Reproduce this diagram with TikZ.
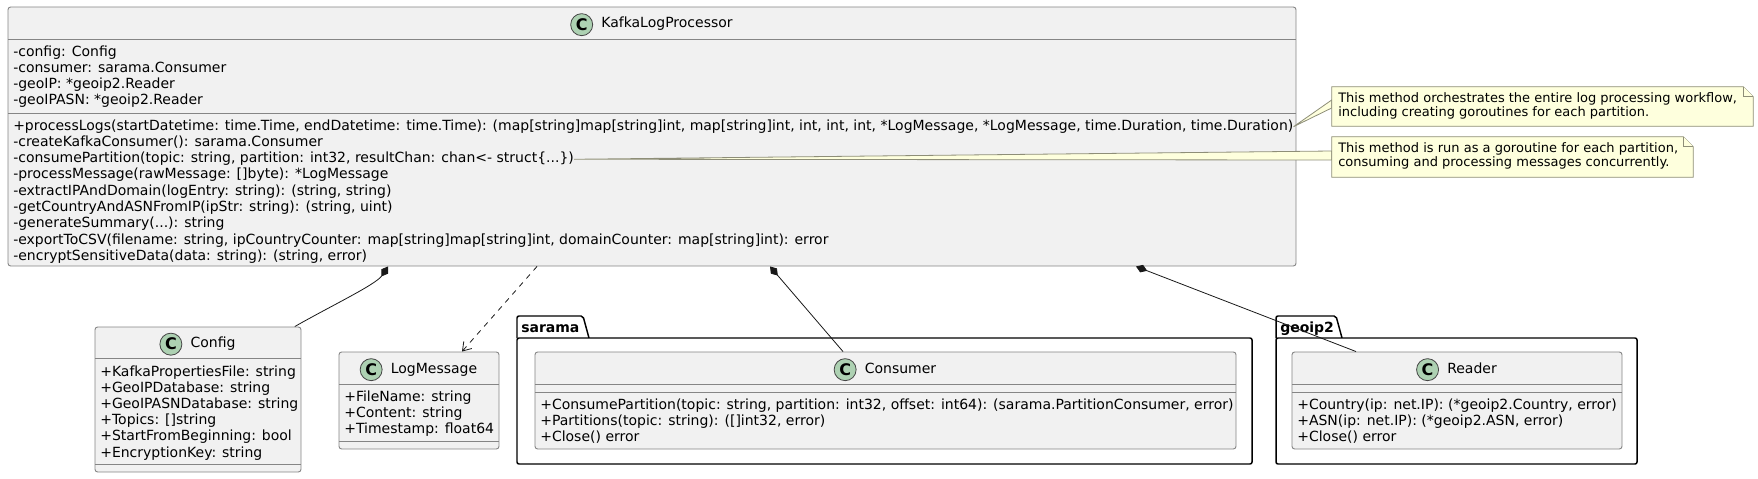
\documentclass[tikz,border=0pt]{standalone}
\usepackage{fontspec}
\setmainfont{DejaVu Sans}
\usetikzlibrary{positioning,fit,arrows.meta}

\definecolor{clsfill}{HTML}{F1F1F1}
\definecolor{clsline}{HTML}{858585}
\definecolor{linkline}{HTML}{181818}
\definecolor{badgefill}{HTML}{ADD1B2}
\definecolor{notefill}{HTML}{FEFFDD}
\definecolor{noteline}{HTML}{8E8E78}

\tikzset{
  clsbox/.style={draw=clsline,fill=clsfill,line width=0.7pt,rounded corners=2pt,inner sep=0pt},
  sepline/.style={draw=clsline,line width=0.7pt},
  txt/.style={anchor=base west,inner sep=0pt,font=\fontsize{10.5}{12}\selectfont,text height=7.5pt,text depth=2.5pt},
  hdr/.style={anchor=base,inner sep=0pt,font=\fontsize{10.5}{12}\selectfont,text height=7.5pt,text depth=2.5pt},
  badge/.style={circle,draw=linkline!80,fill=badgefill,line width=0.6pt,minimum size=16.5pt,inner sep=0pt,font=\fontsize{12}{12}\bfseries\selectfont},
  pkgtxt/.style={anchor=base west,inner sep=0pt,font=\fontsize{10.5}{12}\bfseries\selectfont},
  pkgline/.style={draw=black,line width=1.1pt,fill=white,rounded corners=1.5pt},
  notebg/.style={inner sep=0pt},
  notebox/.style={draw=noteline,fill=notefill,line width=0.6pt},
  notetxt/.style={anchor=base west,inner sep=0pt,font=\fontsize{9.75}{11}\selectfont},
  comp/.style={draw=linkline,arrows={Diamond[length=9pt,width=6pt]-},line width=0.6pt},
  dep/.style={draw=linkline,arrows={-Straight Barb[length=6pt,width=8pt]},dash pattern=on 4pt off 4pt,line width=0.6pt}
}

\begin{document}
\begin{tikzpicture}[x=0.75pt,y=-0.75pt]
  \useasboundingbox (0,0) rectangle (1758,478);

  % Packages
  \draw[pkgline] (517,338) -- (517,316) -- (583,316) -- (589,338);
  \draw[pkgline] (517,338) rectangle (1252,464);
  \node[pkgtxt] (sar) at (521,332) {sarama};
  \draw[pkgline] (1276,338) -- (1276,316) -- (1336,316) -- (1342,338);
  \draw[pkgline] (1276,338) rectangle (1637,464);
  \node[pkgtxt] (geo) at (1280,332) {geoip2};

  % Class boxes (position, etc.)
  \node[clsbox, fit={(8,7) (1296,266)}] (klp) {};
  \node[clsbox, fit={(95,327) (301,472)}] (cfg) {};
  \node[clsbox, fit={(339,352) (499,449)}] (lgm) {};
  \node[clsbox, fit={(535,352) (1236,449)}] (cns) {};
  \node[clsbox, fit={(1292,352) (1622,449)}] (rdr) {};

  \draw[sepline] (8,39) -- (1296,39);
  \draw[sepline] (8,113) -- (1296,113);
  \draw[sepline] (95,358) -- (301,358);
  \draw[sepline] (95,464) -- (301,464);
  \draw[sepline] (339,384) -- (499,384);
  \draw[sepline] (339,441) -- (499,441);
  \draw[sepline] (535,384) -- (1236,384);
  \draw[sepline] (535,392) -- (1236,392);
  \draw[sepline] (1292,384) -- (1622,384);
  \draw[sepline] (1292,392) -- (1622,392);

  % Headers
  \node[hdr] (klph) at (667,28) {KafkaLogProcessor};
  \node[badge, left=6pt of klph] (klpc) {C};
  \node[hdr] (cfgh) at (213,347.5) {Config};
  \node[badge, left=6pt of cfgh] (cfgc) {C};
  \node[hdr] (lgmh) at (434,373) {LogMessage};
  \node[badge, left=6pt of lgmh] (lgmc) {C};
  \node[hdr] (cnsh) at (900.5,373) {Consumer};
  \node[badge, left=6pt of cnsh] (cnsc) {C};
  \node[hdr] (rdrh) at (1472,373) {Reader};
  \node[badge, left=6pt of rdrh] (rdrc) {C};

  % KafkaLogProcessor members
  \node[txt] (ka1) at (13,56) {-config: Config};
  \node[txt] (ka2) at (13,72.3) {-consumer: sarama.Consumer};
  \node[txt] (ka3) at (13,88.6) {-geoIP: *geoip2.Reader};
  \node[txt] (ka4) at (13,104.9) {-geoIPASN: *geoip2.Reader};
  \node[txt] (km1) at (13,130) {+processLogs(startDatetime: time.Time, endDatetime: time.Time): (map[string]map[string]int, map[string]int, int, int, int, *LogMessage, *LogMessage, time.Duration, time.Duration)};
  \node[txt] (km2) at (13,146.3) {-createKafkaConsumer(): sarama.Consumer};
  \node[txt] (km3) at (13,162.6) {-consumePartition(topic: string, partition: int32, resultChan: chan<- struct\{...\})};
  \node[txt] (km4) at (13,178.9) {-processMessage(rawMessage: []byte): *LogMessage};
  \node[txt] (km5) at (13,195.2) {-extractIPAndDomain(logEntry: string): (string, string)};
  \node[txt] (km6) at (13,211.5) {-getCountryAndASNFromIP(ipStr: string): (string, uint)};
  \node[txt] (km7) at (13,227.8) {-generateSummary(...): string};
  \node[txt] (km8) at (13,244.1) {-exportToCSV(filename: string, ipCountryCounter: map[string]map[string]int, domainCounter: map[string]int): error};
  \node[txt] (km9) at (13,260.4) {-encryptSensitiveData(data: string): (string, error)};

  % Config members
  \node[txt] (cf1) at (100,376) {+KafkaPropertiesFile: string};
  \node[txt] (cf2) at (100,392.2) {+GeoIPDatabase: string};
  \node[txt] (cf3) at (100,408.4) {+GeoIPASNDatabase: string};
  \node[txt] (cf4) at (100,424.6) {+Topics: []string};
  \node[txt] (cf5) at (100,440.8) {+StartFromBeginning: bool};
  \node[txt] (cf6) at (100,457) {+EncryptionKey: string};

  % LogMessage members
  \node[txt] (lm1) at (344,401) {+FileName: string};
  \node[txt] (lm2) at (344,417.3) {+Content: string};
  \node[txt] (lm3) at (344,433.6) {+Timestamp: float64};

  % Consumer members
  \node[txt] (cn1) at (540,409) {+ConsumePartition(topic: string, partition: int32, offset: int64): (sarama.PartitionConsumer, error)};
  \node[txt] (cn2) at (540,425.3) {+Partitions(topic: string): ([]int32, error)};
  \node[txt] (cn3) at (540,441.6) {+Close() error};

  % Reader members
  \node[txt] (rd1) at (1297,409) {+Country(ip: net.IP): (*geoip2.Country, error)};
  \node[txt] (rd2) at (1297,425.3) {+ASN(ip: net.IP): (*geoip2.ASN, error)};
  \node[txt] (rd3) at (1297,441.6) {+Close() error};

  % Relations
  \draw[comp] ([xshift=-198pt]klp.south) .. controls +(-12,18) and +(35,-20) .. ([xshift=-5pt]cfg.north east);
  \draw[dep] ([xshift=-86.25pt]klp.south) -- ([xshift=32.25pt]lgm.north);
  \draw[comp] ([xshift=88.5pt]klp.south) -- ([xshift=-31.9pt]cns.north);
  \draw[comp] ([xshift=363pt]klp.south) -- ([xshift=-75.75pt]rdr.north);

  % Notes
  \node[notebg, fit={(1332,87) (1753,126)}] (nt1) {};
  \node[notebg, fit={(1332,137) (1693,177)}] (nt2) {};
  \draw[notebox] (km1.east) -- ([yshift=4.9pt]nt1.west) -- ([yshift=-1.1pt]nt1.west) -- cycle;
  \draw[notebox] (km3.east) -- ([yshift=4.5pt]nt2.west) -- ([yshift=-2.25pt]nt2.west) -- cycle;
  \draw[notebox] (nt1.north west) -- ([xshift=-7.5pt]nt1.north east) -- ([yshift=-7.5pt]nt1.north east)
    -- (nt1.south east) -- (nt1.south west) -- cycle;
  \draw[notebox] ([xshift=-7.5pt]nt1.north east) |- ([yshift=-7.5pt]nt1.north east);
  \draw[notebox] (nt2.north west) -- ([xshift=-7.5pt]nt2.north east) -- ([yshift=-7.5pt]nt2.north east)
    -- (nt2.south east) -- (nt2.south west) -- cycle;
  \draw[notebox] ([xshift=-7.5pt]nt2.north east) |- ([yshift=-7.5pt]nt2.north east);
  \node[notetxt] (n1a) at (1338,102) {This method orchestrates the entire log processing workflow,};
  \node[notetxt] (n1b) at (1338,116) {including creating goroutines for each partition.};
  \node[notetxt] (n2a) at (1338,152) {This method is run as a goroutine for each partition,};
  \node[notetxt] (n2b) at (1338,166) {consuming and processing messages concurrently.};

\end{tikzpicture}
\end{document}
